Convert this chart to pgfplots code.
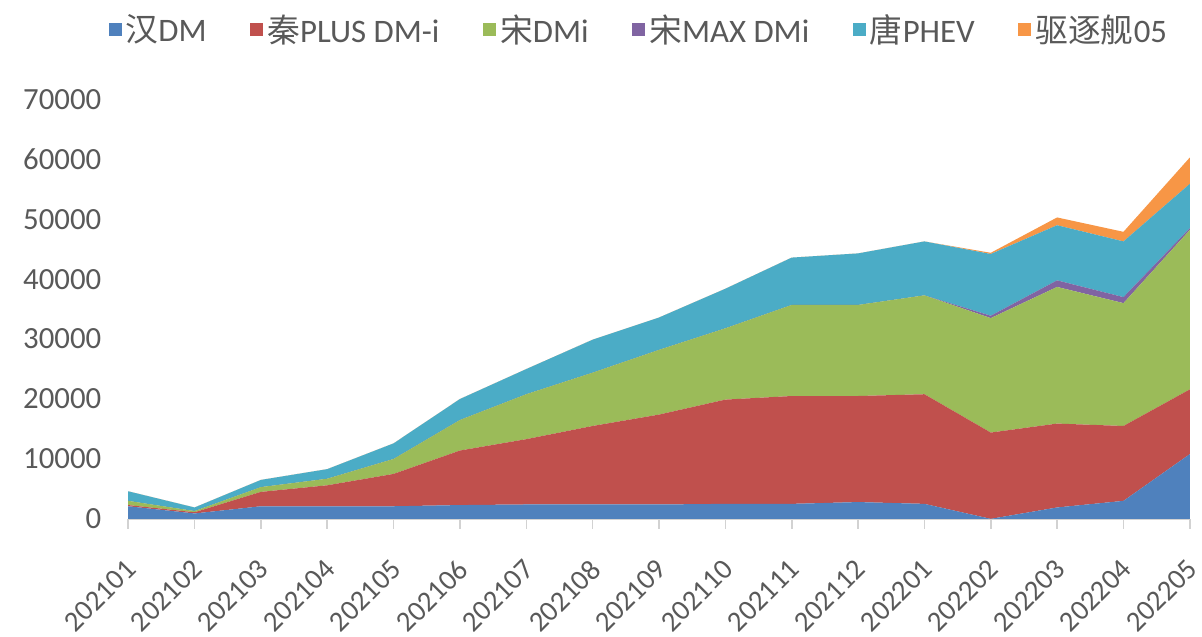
\documentclass[border=0pt]{standalone}
\usepackage{pgfplots}
\pgfplotsset{compat=1.18}
\usepackage{fontspec}
\setmainfont{Carlito}
\newfontfamily\cjk{Noto Sans CJK SC}
\definecolor{cBlue}{HTML}{4F81BD}
\definecolor{cRed}{HTML}{C0504D}
\definecolor{cGreen}{HTML}{9BBB59}
\definecolor{cPurple}{HTML}{8064A2}
\definecolor{cAqua}{HTML}{4BACC6}
\definecolor{cOrange}{HTML}{F79646}
\definecolor{txt}{HTML}{595959}
\begin{document}
\begin{tikzpicture}
\begin{axis}[
  scale only axis, width=534pt, height=211pt,
  xmin=0, xmax=16, ymin=0, ymax=70000,
  stack plots=y,
  font=\fontsize{14.5}{17}\selectfont,
  /pgf/number format/assume math mode=true,
  /pgf/number format/1000 sep={},
  scaled y ticks=false,
  xtick={0,...,16},
  xticklabels={202101,202102,202103,202104,202105,202106,202107,202108,202109,202110,202111,202112,202201,202202,202203,202204,202205},
  xticklabel style={xshift=-2pt, yshift=-13pt, rotate=45, anchor=north east, text=txt, inner sep=1pt},
  ytick={0,10000,...,70000},
  yticklabel style={text=txt, xshift=-5pt, font=\fontsize{15.5}{18}\selectfont},
  axis x line*=bottom, axis y line*=left,
  y axis line style={draw=none},
  x axis line style={draw=gray!35, line width=0.8pt},
  ytick style={draw=none},
  xtick style={draw=gray!35, line width=0.8pt},
  tick align=outside, major tick length=5pt,
  legend columns=6,
  legend style={draw=none, fill=none, text=txt, at={(0.482,1.166)}, anchor=center,
    font=\fontsize{16.5}{19}\selectfont,
    /tikz/every even column/.append style={column sep=20pt}},
  legend image code/.code={\fill[#1] (0pt,-3.25pt) rectangle (6.5pt,3.25pt);},
]
\addplot[fill=cBlue, draw=none] coordinates {(0,2100)(1,900)(2,2100)(3,2100)(4,2100)(5,2300)(6,2400)(7,2400)(8,2400)(9,2500)(10,2500)(11,2800)(12,2500)(13,0)(14,1900)(15,3000)(16,10800)} \closedcycle;
\addlegendentry{{\cjk 汉}DM}
\addplot[fill=cRed, draw=none] coordinates {(0,200)(1,200)(2,2400)(3,3500)(4,5400)(5,9100)(6,10900)(7,13100)(8,15000)(9,17400)(10,18000)(11,17700)(12,18300)(13,14400)(14,14000)(15,12500)(16,10800)} \closedcycle;
\addlegendentry{{\cjk 秦}PLUS DM-i}
\addplot[fill=cGreen, draw=none] coordinates {(0,700)(1,200)(2,800)(3,1100)(4,2500)(5,5100)(6,7500)(7,8900)(8,10800)(9,11900)(10,15200)(11,15200)(12,16500)(13,19100)(14,22800)(15,20500)(16,26600)} \closedcycle;
\addlegendentry{{\cjk 宋}DMi}
\addplot[fill=cPurple, draw=none] coordinates {(0,0)(1,0)(2,0)(3,0)(4,0)(5,0)(6,0)(7,0)(8,0)(9,0)(10,0)(11,0)(12,0)(13,400)(14,1100)(15,1000)(16,300)} \closedcycle;
\addlegendentry{{\cjk 宋}MAX DMi}
\addplot[fill=cAqua, draw=none] coordinates {(0,1600)(1,600)(2,1200)(3,1600)(4,2600)(5,3500)(6,4200)(7,5500)(8,5400)(9,6600)(10,7900)(11,8600)(12,9000)(13,10300)(14,9200)(15,9300)(16,7400)} \closedcycle;
\addlegendentry{{\cjk 唐}PHEV}
\addplot[fill=cOrange, draw=none] coordinates {(0,0)(1,0)(2,0)(3,0)(4,0)(5,0)(6,0)(7,0)(8,0)(9,0)(10,0)(11,0)(12,0)(13,200)(14,1300)(15,1600)(16,4400)} \closedcycle;
\addlegendentry{{\cjk 驱逐舰}05}
\end{axis}
\path ([xshift=-64.5pt,yshift=-57.5pt]current axis.south west) rectangle ([xshift=2.5pt,yshift=50pt]current axis.north east);
\end{tikzpicture}
\end{document}
